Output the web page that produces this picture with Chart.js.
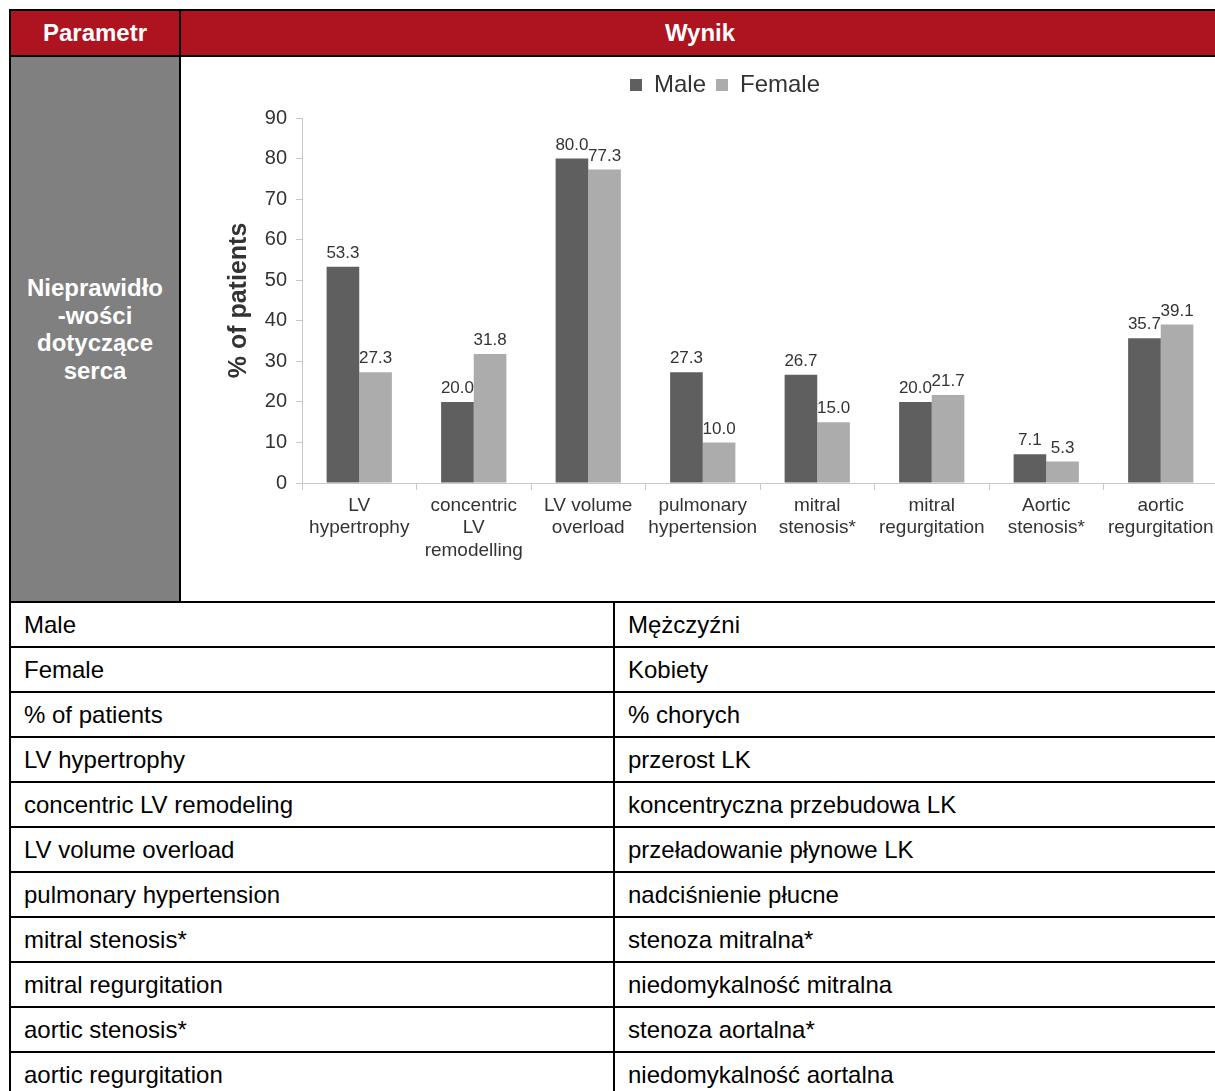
<!DOCTYPE html>
<html>
<head>
<meta charset="utf-8">
<title>Nieprawidłowości dotyczące serca</title>
<script src="https://cdn.jsdelivr.net/npm/chart.js@4.4.1/dist/chart.umd.min.js"></script>
<style>
  html, body { margin: 0; padding: 0; width: 1215px; height: 1091px; overflow: hidden; background: #fff; }
  body { position: relative; font-family: Arial, "Liberation Sans", sans-serif; }
  table.grid { position: absolute; left: 9px; top: 9px; width: 1210px; border-collapse: collapse; table-layout: fixed; }
  table.grid td { border: 2px solid #000; padding: 0; font-size: 24px; }
  table.grid .head td { height: 44px; background: #ae1420; color: #fff; font-weight: bold; text-align: center; }
  table.grid .param { background: #808080; color: #fff; font-weight: bold; text-align: center; line-height: 27.5px; }
  table.grid .chart-row td { height: 544px; }
  table.grid .terms td { height: 43px; line-height: 28px; padding: 0 0 0 13px; color: #000; }
  #plot { position: absolute; left: 180px; top: 57px; width: 1040px; height: 545px; }
</style>
</head>
<body>
<table class="grid">
  <colgroup><col style="width:170px"><col style="width:434px"><col style="width:606px"></colgroup>
  <tr class="head"><td>Parametr</td><td colspan="2">Wynik</td></tr>
  <tr class="chart-row"><td class="param">Nieprawidło<br>-wości<br>dotyczące<br>serca</td><td colspan="2"></td></tr>
  <tr class="terms"><td colspan="2">Male</td><td>Mężczyźni</td></tr>
  <tr class="terms"><td colspan="2">Female</td><td>Kobiety</td></tr>
  <tr class="terms"><td colspan="2">% of patients</td><td>% chorych</td></tr>
  <tr class="terms"><td colspan="2">LV hypertrophy</td><td>przerost LK</td></tr>
  <tr class="terms"><td colspan="2">concentric LV remodeling</td><td>koncentryczna przebudowa LK</td></tr>
  <tr class="terms"><td colspan="2">LV volume overload</td><td>przeładowanie płynowe LK</td></tr>
  <tr class="terms"><td colspan="2">pulmonary hypertension</td><td>nadciśnienie płucne</td></tr>
  <tr class="terms"><td colspan="2">mitral stenosis*</td><td>stenoza mitralna*</td></tr>
  <tr class="terms"><td colspan="2">mitral regurgitation</td><td>niedomykalność mitralna</td></tr>
  <tr class="terms"><td colspan="2">aortic stenosis*</td><td>stenoza aortalna*</td></tr>
  <tr class="terms"><td colspan="2">aortic regurgitation</td><td>niedomykalność aortalna</td></tr>
</table>

<canvas id="plot" width="1040" height="545"></canvas>

<script>
const categories = [
  ["LV", "hypertrophy"],
  ["concentric", "LV", "remodelling"],
  ["LV volume", "overload"],
  ["pulmonary", "hypertension"],
  ["mitral", "stenosis*"],
  ["mitral", "regurgitation"],
  ["Aortic", "stenosis*"],
  ["aortic", "regurgitation"]
];
const seriesNames = ["Male", "Female"];
const maleValues = [53.3, 20.0, 80.0, 27.3, 26.7, 20.0, 7.1, 35.7];
const femaleValues = [27.3, 31.8, 77.3, 10.0, 15.0, 21.7, 5.3, 39.1];
const yMin = 0, yMax = 90, yStep = 10;
const axisTitle = "% of patients";

Chart.defaults.font.family = 'Arial, "Liberation Sans", sans-serif';
Chart.defaults.color = '#333';

// value printed over every bar
const barValueLabels = {
  id: 'barValueLabels',
  afterDatasetsDraw(chart) {
    const ctx = chart.ctx;
    ctx.save();
    ctx.font = '17px Arial, "Liberation Sans", sans-serif';
    ctx.fillStyle = '#333';
    ctx.textAlign = 'center';
    ctx.textBaseline = 'bottom';
    chart.data.datasets.forEach((ds, i) => {
      chart.getDatasetMeta(i).data.forEach((bar, j) => {
        ctx.fillText(ds.data[j].toFixed(1), bar.x, bar.y - 5);
      });
    });
    ctx.restore();
  }
};

// a bit more room under the legend
const legendGap = {
  id: 'legendGap',
  beforeInit(chart) {
    const fit = chart.legend.fit;
    chart.legend.fit = function () {
      fit.call(this);
      this.height += 11;
    };
  }
};

new Chart(document.getElementById('plot'), {
  type: 'bar',
  data: {
    labels: categories,
    datasets: [
      { label: seriesNames[0], data: maleValues, backgroundColor: '#5f5f5f' },
      { label: seriesNames[1], data: femaleValues, backgroundColor: '#acacac' }
    ]
  },
  options: {
    responsive: false,
    animation: false,
    devicePixelRatio: 1,
    datasets: { bar: { barPercentage: 1, categoryPercentage: 0.57 } },
    layout: { padding: { left: 52, right: 2, top: 6, bottom: 0 } },
    plugins: {
      tooltip: { enabled: false },
      legend: {
        position: 'top',
        labels: { boxWidth: 12, boxHeight: 12, padding: 10, color: '#333', font: { size: 24 } }
      }
    },
    scales: {
      x: {
        ticks: { font: { size: 19 }, color: '#333', padding: 4, maxRotation: 0, autoSkip: false },
        grid: { drawOnChartArea: false, tickLength: 7, color: '#c8c8c8', offset: true },
        border: { color: '#c8c8c8' },
        afterFit(scale) { scale.height = 119; }
      },
      y: {
        min: yMin,
        max: yMax,
        ticks: { stepSize: yStep, font: { size: 20 }, color: '#333', padding: 9 },
        grid: { drawOnChartArea: false, tickLength: 6, color: '#c8c8c8' },
        border: { color: '#c8c8c8' },
        title: {
          display: true,
          text: axisTitle,
          color: '#333',
          font: { size: 25, weight: 'bold' },
          padding: { top: -8, bottom: 0 }
        },
        afterFit(scale) { scale.width = 70; }
      }
    }
  },
  plugins: [barValueLabels, legendGap]
});
</script>
</body>
</html>
